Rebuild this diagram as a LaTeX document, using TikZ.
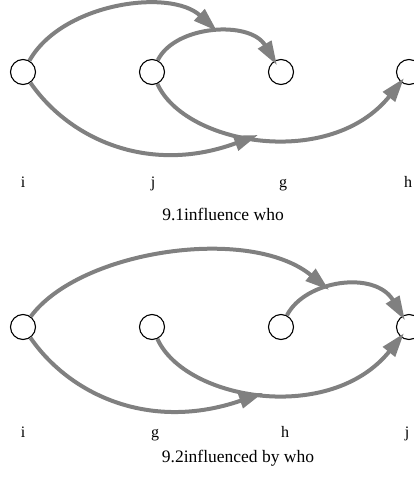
\documentclass[tikz,border=0pt]{standalone}
\usepackage{fontspec}
\setmainfont{Liberation Serif}
\usetikzlibrary{arrows.meta, calc}

\tikzset{
  person/.style={circle, draw=black, line width=1.1pt, minimum size=25pt, inner sep=0pt, fill=white},
  infl/.style={draw=gray, line width=4pt, -{Triangle[length=24pt,width=15pt]}},
  plabel/.style={anchor=base, font=\fontsize{16}{18}\selectfont},
  figcap/.style={anchor=base, font=\fontsize{17.5}{20}\selectfont}
}

\begin{document}
\begin{tikzpicture}[x=1pt, y=-1pt]
        \useasboundingbox (0,0) rectangle (414,481);

        % ==========================================
        % 9.1 influence who
        % ==========================================
        \node[person] (ai) at (23,72) {};
        \node[person] (aj) at (152,72) {};
        \node[person] (ag) at (281,72) {};
        \node[person] (ah) at (409,72) {};

        % Ends that meet another edge
        \coordinate (ajg) at (217,31);
        \coordinate (ajh) at (258,135);

        \draw[infl, shorten >=-5pt] (aj) .. controls (175,25) and (250,20) .. (ag);
        \draw[infl, shorten >=-5pt] (aj) .. controls (185,145) and (330,170) .. (ah);
        \draw[infl] (ai) .. controls (62,3) and (170,-12) .. (ajg);
        \draw[infl] (ai) .. controls (70,140) and (150,175) .. (ajh);

        \node[plabel] (ailbl) at (23,187) {i};
        \node[plabel] (ajlbl) at (153,187) {j};
        \node[plabel] (aglbl) at (283,187) {g};
        \node[plabel] (ahlbl) at (408,187) {h};
        \node[figcap] (acap) at (223,220) {9.1influence who};

        % ==========================================
        % 9.2 influenced by who
        % ==========================================
        \node[person] (bi) at (23,327) {};
        \node[person] (bg) at (152,327) {};
        \node[person] (bh) at (281,327) {};
        \node[person] (bj) at (409,327) {};

        % Ends that meet another edge
        \coordinate (bhj) at (329,290);
        \coordinate (bgj) at (263,393);

        \draw[infl, shorten >=-5pt] (bh) .. controls (305,280) and (375,270) .. (bj);
        \draw[infl, shorten >=-5pt] (bg) .. controls (185,400) and (330,425) .. (bj);
        \draw[infl] (bi) .. controls (80,250) and (250,225) .. (bhj);
        \draw[infl] (bi) .. controls (70,395) and (150,432) .. (bgj);

        \node[plabel] (bilbl) at (23,437) {i};
        \node[plabel] (bglbl) at (155,437) {g};
        \node[plabel] (bhlbl) at (285,437) {h};
        \node[plabel] (bjlbl) at (407,437) {j};
        \node[figcap] (bcap) at (238,462) {9.2influenced by who};

    \end{tikzpicture}
\end{document}
